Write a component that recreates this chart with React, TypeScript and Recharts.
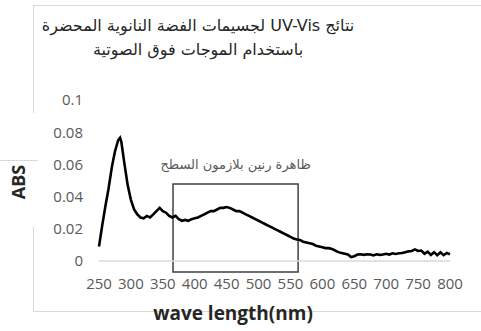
import React from 'react';
import { LineChart, Line, XAxis, YAxis, ReferenceArea } from 'recharts';

const wavelengths = [
  250, 255, 260, 265, 270, 275, 280, 283, 285, 290, 295, 300, 305, 310, 315, 320, 325, 330, 335, 340,
  345, 350, 355, 360, 365, 370, 375, 380, 385, 390, 395, 400, 405, 410, 415, 420, 425, 430, 435, 440,
  445, 450, 455, 460, 465, 470, 475, 480, 485, 490, 495, 500, 505, 510, 515, 520, 525, 530, 535, 540,
  545, 550, 555, 560, 565, 570, 575, 580, 585, 590, 595, 600, 605, 610, 615, 620, 625, 630, 635, 640,
  645, 650, 655, 660, 665, 670, 675, 680, 685, 690, 695, 700, 705, 710, 715, 720, 725, 730, 735, 740,
  745, 750, 755, 760, 765, 770, 775, 780, 785, 790, 795, 800,
];

const absorbance = [
  0.009, 0.022, 0.034, 0.045, 0.058, 0.068, 0.075, 0.0765, 0.074, 0.06, 0.047, 0.038, 0.032, 0.029, 0.027, 0.0265, 0.028, 0.027, 0.029, 0.031,
  0.033, 0.031, 0.03, 0.028, 0.027, 0.028, 0.026, 0.025, 0.0255, 0.025, 0.026, 0.0265, 0.027, 0.028, 0.029, 0.03, 0.031, 0.031, 0.032, 0.033,
  0.033, 0.0335, 0.033, 0.032, 0.031, 0.031, 0.03, 0.029, 0.028, 0.027, 0.026, 0.025, 0.024, 0.023, 0.022, 0.021, 0.02, 0.019, 0.018, 0.017,
  0.016, 0.015, 0.014, 0.0133, 0.013, 0.012, 0.0115, 0.011, 0.0105, 0.0095, 0.009, 0.0085, 0.008, 0.008, 0.0075, 0.0065, 0.0055, 0.005, 0.0045, 0.004,
  0.0025, 0.003, 0.004, 0.0042, 0.0038, 0.0042, 0.004, 0.0035, 0.0042, 0.0038, 0.004, 0.0045, 0.004, 0.0048, 0.0044, 0.0048, 0.005, 0.0055, 0.006, 0.0062,
  0.0072, 0.0062, 0.0065, 0.0045, 0.0058, 0.0038, 0.0055, 0.0036, 0.0054, 0.0036, 0.005, 0.0042,
];

const xTicks = [250, 300, 350, 400, 450, 500, 550, 600, 650, 700, 750, 800];
const yTicks = [0, 0.02, 0.04, 0.06, 0.08, 0.1];

const titleLine1 = 'نتائج UV-Vis لجسيمات الفضة النانوية المحضرة';
const titleLine2 = 'باستخدام الموجات فوق الصوتية';
const annotationText = 'ظاهرة رنين بلازمون السطح';
const yLabel = 'ABS';
const xLabel = 'wave length(nm)';

const boxX = [366, 562];
const boxY = [-0.0068, 0.0478];

const data = wavelengths.map((wl, i) => ({ wl, abs: absorbance[i] }));

const frame = '#d9d9d9';

export default function App() {
  return (
    <div style={{ position: 'absolute', left: 0, top: 0, width: 481, height: 331, background: '#fff', overflow: 'hidden' }}>
      <div style={{ position: 'absolute', left: 34, top: 5, width: 447, height: 1, background: frame }} />
      <div style={{ position: 'absolute', left: 33, top: 5, width: 1, height: 108, background: frame }} />
      <div style={{ position: 'absolute', left: 0, top: 160, width: 38, height: 1, background: frame }} />
      <div style={{ position: 'absolute', left: 33, top: 227, width: 1, height: 85, background: frame }} />
      <div style={{ position: 'absolute', left: 34, top: 311, width: 447, height: 1, background: frame }} />

      <LineChart
        width={481}
        height={331}
        data={data}
        margin={{ top: 100, right: 31, bottom: 40, left: 39 }}
        style={{ position: 'absolute', left: 0, top: 0 }}
      >
        <XAxis
          dataKey="wl"
          type="number"
          domain={[250, 800]}
          ticks={xTicks}
          interval={0}
          height={30}
          axisLine={{ stroke: '#d9d9d9', strokeWidth: 1.5 }}
          tickLine={false}
          tickMargin={11}
          tick={{ fill: '#595959', fontSize: 15, fontFamily: 'Open Sans' }}
        />
        <YAxis
          type="number"
          domain={[0, 0.1]}
          ticks={yTicks}
          interval={0}
          width={60}
          axisLine={false}
          tickLine={false}
          tickMargin={10}
          tickFormatter={(v: number) => String(+v.toFixed(2))}
          tick={{ fill: '#595959', fontSize: 15, fontFamily: 'Open Sans' }}
        />
        <ReferenceArea
          x1={boxX[0]}
          x2={boxX[1]}
          y1={boxY[0]}
          y2={boxY[1]}
          ifOverflow="visible"
          fill="none"
          fillOpacity={0}
          stroke="#404040"
          strokeWidth={1.5}
          label={{ value: annotationText, position: 'top', offset: 15, fill: '#595959', fontSize: 13, fontFamily: 'DejaVu Sans' }}
        />
        <Line
          type="linear"
          dataKey="abs"
          stroke="#000"
          strokeWidth={2.6}
          dot={false}
          isAnimationActive={false}
        />
      </LineChart>

      <div style={{ position: 'absolute', left: 0, width: 396, top: 14, textAlign: 'center', fontFamily: 'DejaVu Sans', fontSize: 16, lineHeight: '24px', color: '#262626', direction: 'rtl' }}>
        <div>{titleLine1}</div>
        <div>{titleLine2}</div>
      </div>

      <div style={{ position: 'absolute', left: 18, top: 182, transform: 'translate(-50%, -50%) rotate(-90deg)', fontFamily: 'Open Sans', fontWeight: 700, fontSize: 18, color: '#262626', whiteSpace: 'nowrap' }}>
        {yLabel}
      </div>
      <div style={{ position: 'absolute', left: 233, top: 313, transform: 'translate(-50%, -50%)', fontFamily: 'Open Sans', fontWeight: 700, fontSize: 19, color: '#262626', whiteSpace: 'nowrap' }}>
        {xLabel}
      </div>
    </div>
  );
}
